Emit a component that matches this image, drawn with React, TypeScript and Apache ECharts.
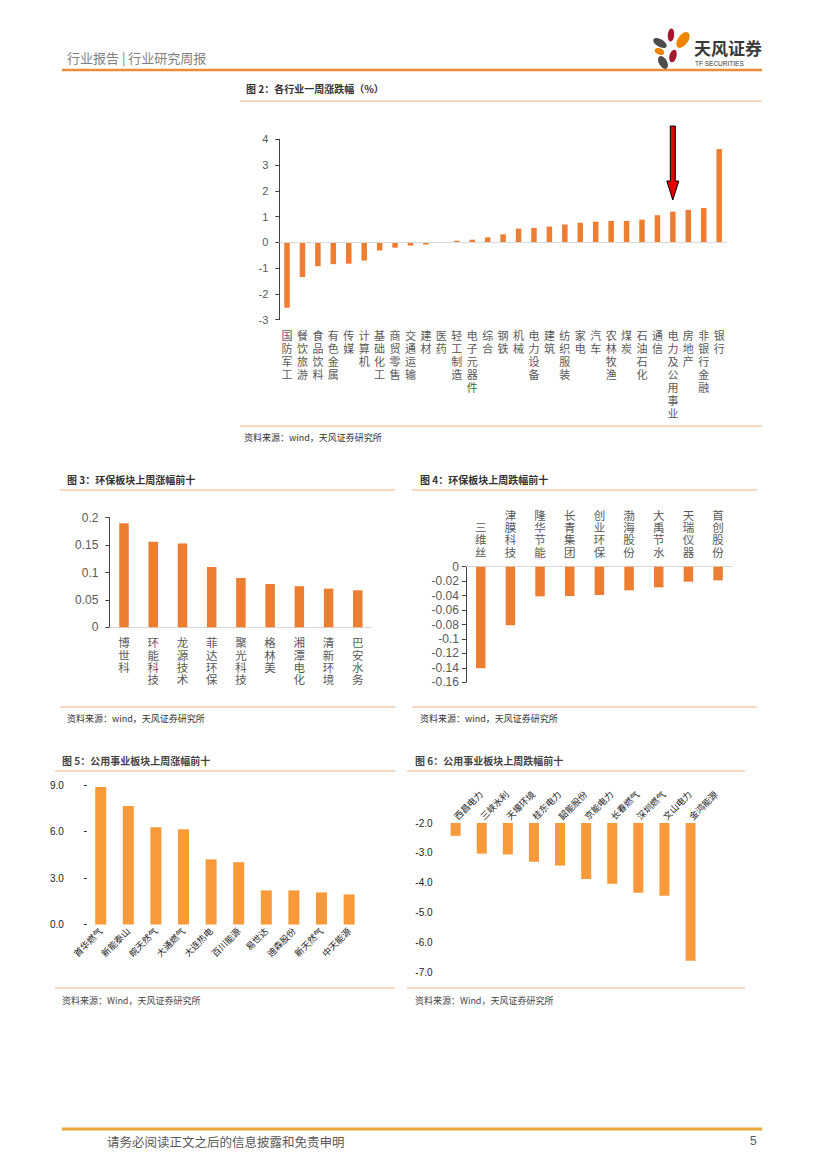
import React, { useEffect, useRef } from "react";
import * as echarts from "echarts";

// ---------- DATA ----------
const industryNames = [
  "国防军工", "餐饮旅游", "食品饮料", "有色金属", "传媒", "计算机", "基础化工", "商贸零售",
  "交通运输", "建材", "医药", "轻工制造", "电子元器件", "综合", "钢铁", "机械", "电力设备",
  "建筑", "纺织服装", "家电", "汽车", "农林牧渔", "煤炭", "石油石化", "通信",
  "电力及公用事业", "房地产", "非银行金融", "银行",
];
const industryValues = [
  -2.54, -1.35, -0.93, -0.85, -0.83, -0.71, -0.32, -0.21, -0.13, -0.09, -0.02, 0.06, 0.1,
  0.19, 0.31, 0.53, 0.56, 0.61, 0.69, 0.76, 0.8, 0.83, 0.83, 0.88, 1.05, 1.19, 1.26, 1.33, 3.62,
];
const industryTicks = { min: -3, max: 4, interval: 1 };

const envUpNames = ["博世科", "环能科技", "龙源技术", "菲达环保", "聚光科技", "格林美", "湘潭电化", "清新环境", "巴安水务"];
const envUpValues = [0.19, 0.156, 0.153, 0.11, 0.09, 0.079, 0.075, 0.0705, 0.0675];
const envUpTicks = { min: 0, max: 0.2, interval: 0.05 };

const envDownNames = ["三维丝", "津膜科技", "隆华节能", "长青集团", "创业环保", "渤海股份", "大禹节水", "天瑞仪器", "首创股份"];
const envDownValues = [-0.1406, -0.0812, -0.041, -0.0406, -0.0392, -0.0327, -0.0286, -0.0207, -0.0189];
const envDownTicks = { min: -0.16, max: 0, interval: 0.02 };

const utilUpNames = ["首华燃气", "新能泰山", "皖天然气", "大通燃气", "大连热电", "百川能源", "易世达", "迪森股份", "新天然气", "中天能源"];
const utilUpValues = [8.87, 7.64, 6.28, 6.15, 4.2, 4.02, 2.2, 2.2, 2.07, 1.94];
const utilUpTicks = { min: 0, max: 9, interval: 3 };

const utilDownNames = ["西昌电力", "三峡水利", "天壕环境", "桂东电力", "韶能股份", "京能电力", "长春燃气", "深圳燃气", "文山电力", "金鸿能源"];
const utilDownValues = [-2.43, -3.03, -3.06, -3.3, -3.43, -3.88, -4.04, -4.34, -4.44, -6.62];
const utilDownTicks = { min: -7, max: -2, interval: 1 };

// ---------- STYLE ----------
const FONT = '"Noto Sans CJK SC", "Liberation Sans", sans-serif';
const NUMFONT = '"Liberation Sans", "Noto Sans", sans-serif';
const BAR = "#ED7D31";
const BAR2 = "#F89A3A";
const GRAY = "#595959";
const TITLE_LINE = "#F4B183";

const vertical = (v: string) => v.split("").join("\n");

const txt = (text: string, x: number, y: number, o: any = {}) => ({
  type: "text",
  x,
  y,
  silent: true,
  style: {
    text,
    fontFamily: FONT,
    fontSize: 10,
    fill: "#333",
    verticalAlign: "middle",
    align: "left",
    ...o,
  },
});
const hline = (x1: number, x2: number, y: number, stroke: string, lineWidth = 1) => ({
  type: "line",
  silent: true,
  shape: { x1, y1: y, x2, y2: y },
  style: { stroke, lineWidth },
});
const petal = (cx: number, cy: number, rx: number, ry: number, rot: number, fill: string) => ({
  type: "group",
  x: cx,
  y: cy,
  rotation: (rot * Math.PI) / 180,
  children: [{ type: "ellipse", shape: { cx: 0, cy: 0, rx, ry }, style: { fill } }],
});

function buildOption() {
  const grids = [
    { left: 279.3, top: 139.3, width: 447.6, height: 180.2 },
    { left: 109.4, top: 517.7, width: 263, height: 109.6 },
    { left: 465.9, top: 566.7, width: 267, height: 115.6 },
    { left: 86.9, top: 785, width: 276, height: 139.5 },
    { left: 442.6, top: 823, width: 261, height: 149 },
  ].map((g) => ({ ...g, containLabel: false, outerBoundsMode: "none" }));

  const xAxis: any[] = [
    {
      gridIndex: 0, type: "category", data: industryNames,
      axisLine: { show: false, onZero: false }, axisTick: { show: false },
      axisLabel: { interval: 0, formatter: vertical, fontSize: 11, lineHeight: 13, color: GRAY, fontFamily: FONT, margin: 9 },
    },
    {
      gridIndex: 1, type: "category", data: envUpNames,
      axisLine: { show: true, lineStyle: { color: "#D9D9D9" } }, axisTick: { show: false },
      axisLabel: { interval: 0, formatter: vertical, fontSize: 11.5, lineHeight: 12.2, color: GRAY, fontFamily: FONT, margin: 9 },
    },
    {
      gridIndex: 2, type: "category", data: envDownNames, position: "top",
      axisLine: { show: true, lineStyle: { color: "#D9D9D9" } }, axisTick: { show: false },
      axisLabel: { interval: 0, formatter: vertical, fontSize: 11.5, lineHeight: 12.2, color: GRAY, fontFamily: FONT, margin: 9 },
    },
    {
      gridIndex: 3, type: "category", data: utilUpNames,
      axisLine: { show: false }, axisTick: { show: false },
      axisLabel: { interval: 0, rotate: 45, fontSize: 9, color: "#222", fontFamily: FONT, margin: 5 },
    },
    {
      gridIndex: 4, type: "category", data: utilDownNames, position: "top",
      axisLine: { show: false }, axisTick: { show: false },
      axisLabel: { interval: 0, rotate: -45, fontSize: 9, color: "#222", fontFamily: FONT, margin: 5 },
    },
  ];

  const yAxis: any[] = [
    {
      gridIndex: 0, type: "value", ...industryTicks,
      axisLine: { show: true, lineStyle: { color: "#404040" } },
      axisTick: { show: true, length: 4, lineStyle: { color: "#404040" } },
      splitLine: { show: false },
      axisLabel: { fontSize: 11, color: GRAY, fontFamily: NUMFONT, margin: 11 },
    },
    {
      gridIndex: 1, type: "value", ...envUpTicks,
      axisLine: { show: true, lineStyle: { color: "#404040" } },
      axisTick: { show: true, length: 4, lineStyle: { color: "#404040" } },
      splitLine: { show: false },
      axisLabel: { fontSize: 12, color: GRAY, fontFamily: NUMFONT, margin: 11 },
    },
    {
      gridIndex: 2, type: "value", ...envDownTicks,
      axisLine: { show: true, lineStyle: { color: "#404040" } },
      axisTick: { show: true, length: 4, lineStyle: { color: "#404040" } },
      splitLine: { show: false },
      axisLabel: { fontSize: 12, color: GRAY, fontFamily: NUMFONT, margin: 7 },
    },
    {
      gridIndex: 3, type: "value", ...utilUpTicks,
      axisLine: { show: false },
      axisTick: { show: true, length: 3, lineStyle: { color: "#333" } },
      splitLine: { show: false },
      axisLabel: { fontSize: 10, color: "#222", fontFamily: NUMFONT, margin: 12, align: "left", padding: [0, 0, 0, -25], formatter: (v: number) => v.toFixed(1) },
    },
    {
      gridIndex: 4, type: "value", ...utilDownTicks,
      axisLine: { show: false },
      axisTick: { show: false },
      splitLine: { show: false },
      axisLabel: { fontSize: 10, color: "#222", fontFamily: NUMFONT, margin: 10, formatter: (v: number) => v.toFixed(1) },
    },
  ];

  const series: any[] = [
    {
      type: "bar", xAxisIndex: 0, yAxisIndex: 0, data: industryValues, barWidth: 5.5,
      itemStyle: { color: BAR },
      markLine: {
        silent: true, symbol: "none", label: { show: false },
        lineStyle: { color: "#D9D9D9", type: "solid", width: 1 },
        data: [{ yAxis: 0 }],
      },
    },
    { type: "bar", xAxisIndex: 1, yAxisIndex: 1, data: envUpValues, barWidth: 9.5, itemStyle: { color: BAR } },
    { type: "bar", xAxisIndex: 2, yAxisIndex: 2, data: envDownValues, barWidth: 9.5, itemStyle: { color: BAR } },
    { type: "bar", xAxisIndex: 3, yAxisIndex: 3, data: utilUpValues, barWidth: 11, itemStyle: { color: BAR2 } },
    { type: "bar", xAxisIndex: 4, yAxisIndex: 4, data: utilDownValues, barWidth: 10, clip: true, itemStyle: { color: BAR2 } },
  ];

  const graphic: any[] = [
    // header
    txt("行业报告 | 行业研究周报", 67, 57, { fontSize: 13, fill: "#7F7F7F" }),
    hline(62, 762, 70, "#ED8B3A", 2.5),
    // logo
    petal(671, 35, 3.2, 6.5, -5, "#A5192E"),
    petal(683, 40, 5, 9, -35, "#F08300"),
    petal(660, 43, 3.8, 7.5, 60, "#4D4D4D"),
    petal(659.5, 51.5, 3.2, 5, 70, "#F08300"),
    petal(673, 56, 3.5, 6.5, -15, "#A5192E"),
    petal(663, 62.5, 4, 7, 30, "#4D4D4D"),
    txt("天风证券", 694, 47, { fontSize: 17, fontWeight: "bold", fill: "#3A3A3A" }),
    txt("TF SECURITIES", 695, 63.5, { fontSize: 6.5, fill: "#3A3A3A", fontFamily: NUMFONT }),

    // chart 2
    txt("图 2：各行业一周涨跌幅（%）", 246, 88, { fontWeight: "bold" }),
    hline(240, 762, 101, TITLE_LINE),
    hline(240, 762, 426, TITLE_LINE),
    txt("资料来源：wind，天风证券研究所", 244, 437, { fontSize: 9, fill: "#333" }),
    {
      type: "polygon", silent: true,
      shape: { points: [[670.3, 126], [675.3, 126], [675.3, 181], [678.8, 181], [672.8, 200], [666.8, 181], [670.3, 181]] },
      style: { fill: "#E30000", stroke: "#000", lineWidth: 1 },
    },

    // chart 3
    txt("图 3：环保板块上周涨幅前十", 67, 479, { fontWeight: "bold" }),
    hline(60, 395, 490, TITLE_LINE),
    hline(60, 395, 707, TITLE_LINE),
    txt("资料来源：wind，天风证券研究所", 67, 718, { fontSize: 9 }),

    // chart 4
    txt("图 4：环保板块上周跌幅前十", 420, 479, { fontWeight: "bold" }),
    hline(412, 757, 490, TITLE_LINE),
    hline(412, 757, 707, TITLE_LINE),
    txt("资料来源：wind，天风证券研究所", 420, 718, { fontSize: 9 }),

    // chart 5
    txt("图 5：公用事业板块上周涨幅前十", 62, 760, { fontWeight: "bold", fill: "#444" }),
    hline(55, 395, 771, TITLE_LINE),
    hline(55, 395, 988, TITLE_LINE),
    txt("资料来源：Wind，天风证券研究所", 62, 1000, { fontSize: 9, fill: "#444" }),

    // chart 6
    txt("图 6：公用事业板块上周跌幅前十", 415, 760, { fontWeight: "bold", fill: "#444" }),
    hline(407, 745, 771, TITLE_LINE),
    hline(407, 745, 988, TITLE_LINE),
    txt("资料来源：Wind，天风证券研究所", 415, 1000, { fontSize: 9, fill: "#444" }),

    // footer
    hline(62, 762, 1129, "#EBA53B", 3),
    txt("请务必阅读正文之后的信息披露和免责申明", 107, 1141, { fontSize: 12.5, fill: "#595959" }),
    txt("5", 750, 1141, { fontSize: 12, fill: "#595959", fontFamily: NUMFONT }),
  ];

  return {
    animation: false,
    backgroundColor: "#fff",
    textStyle: { fontFamily: FONT },
    grid: grids,
    xAxis,
    yAxis,
    series,
    graphic,
  };
}

export default function App() {
  const ref = useRef<HTMLDivElement>(null);
  useEffect(() => {
    if (!ref.current) return;
    const chart = echarts.init(ref.current, null, { renderer: "svg" });
    chart.setOption(buildOption() as any);
    return () => chart.dispose();
  }, []);
  return (
    <div
      ref={ref}
      style={{ position: "absolute", left: 0, top: 0, width: 827, height: 1169, background: "#fff" }}
    />
  );
}
